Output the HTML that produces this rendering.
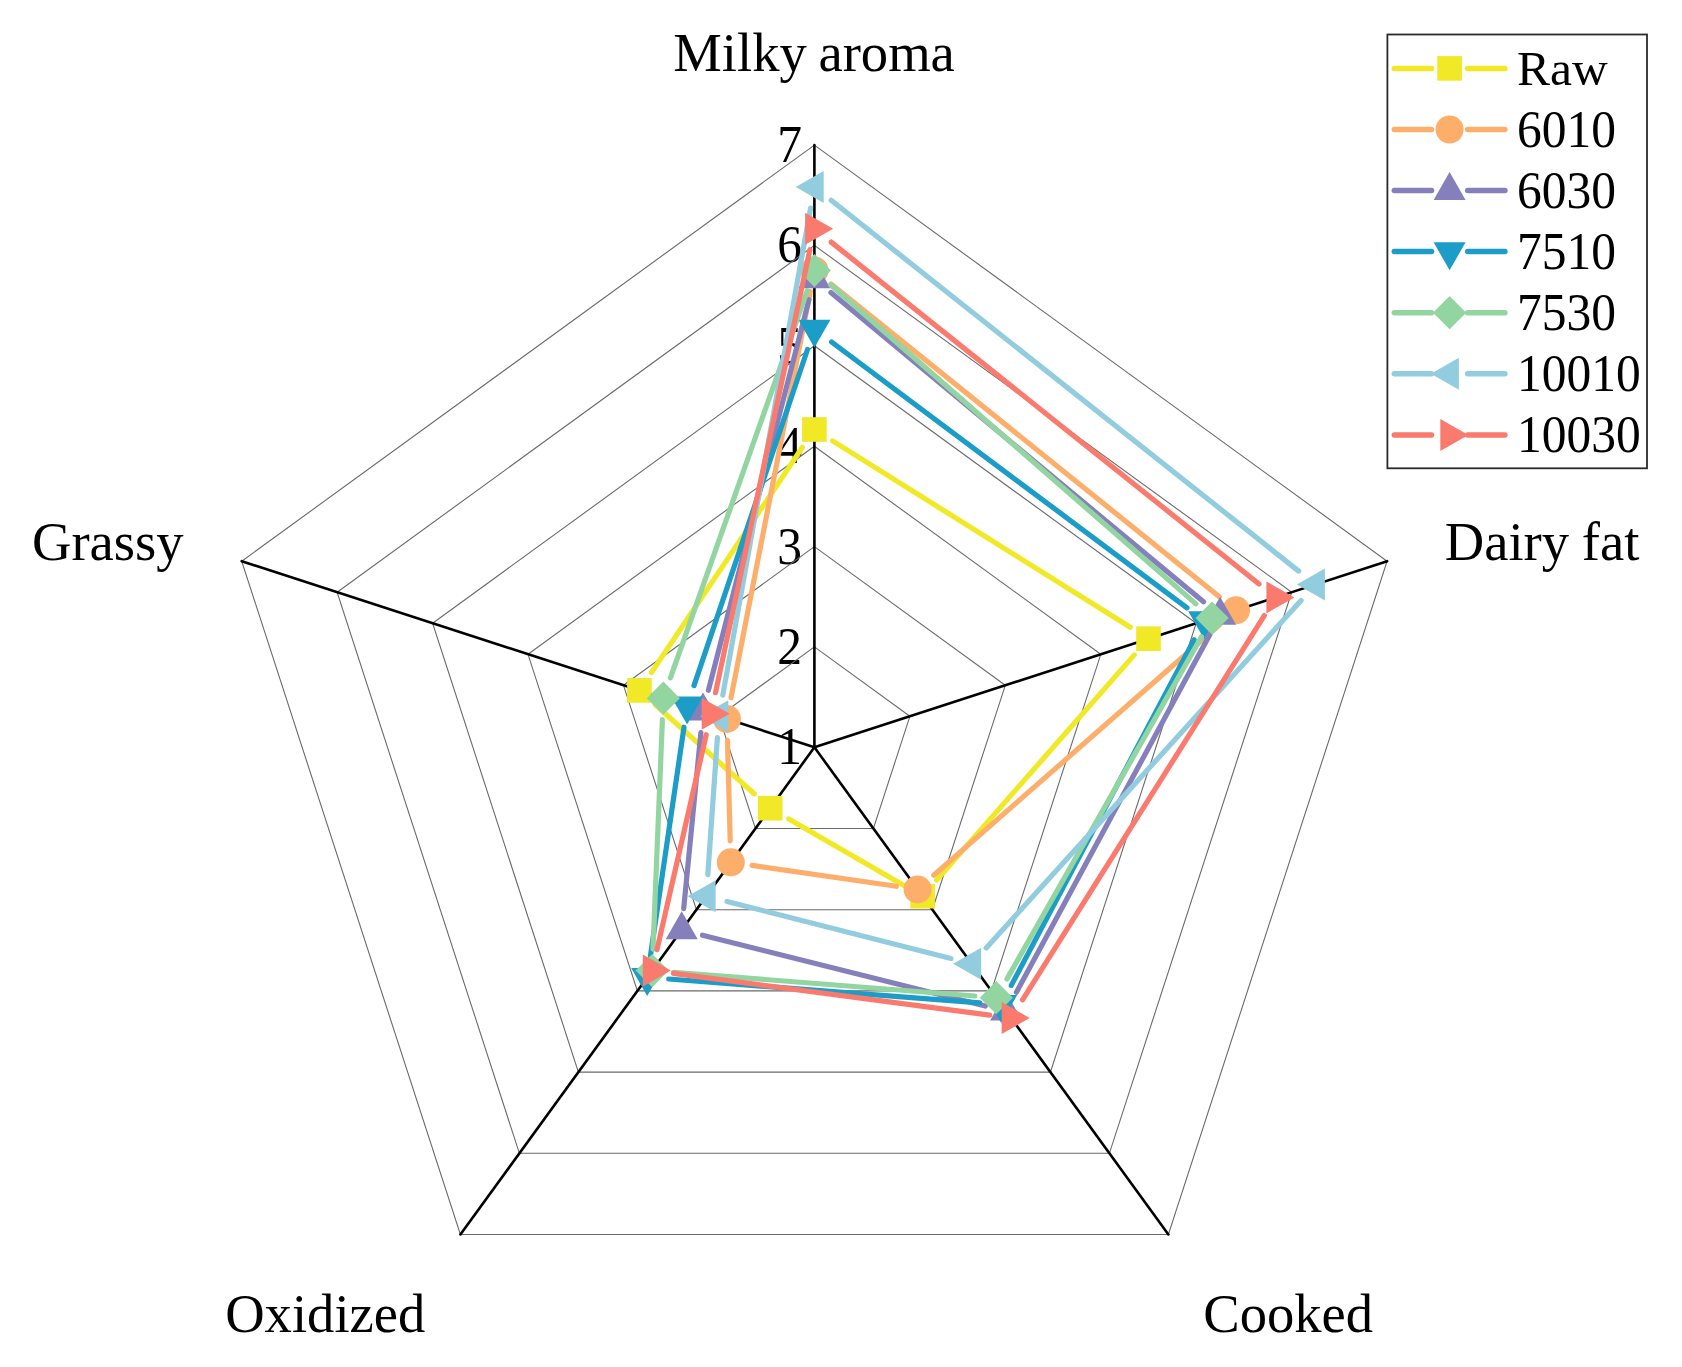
<!DOCTYPE html>
<html><head><meta charset="utf-8"><title>Radar chart</title>
<style>html,body{margin:0;padding:0;background:#fff}svg{display:block}</style>
</head><body>
<svg width="1682" height="1367" viewBox="0 0 1682 1367">
<rect width="1682" height="1367" fill="#fff"/>
<g font-family="'Liberation Serif', serif" font-size="49.5" fill="#000" text-anchor="end">
<text transform="translate(801.9,764.3) scale(1,1.07)">1</text>
<text transform="translate(801.9,663.9) scale(1,1.07)">2</text>
<text transform="translate(801.9,563.6) scale(1,1.07)">3</text>
<text transform="translate(801.9,463.2) scale(1,1.07)">4</text>
<text transform="translate(801.9,362.8) scale(1,1.07)">5</text>
<text transform="translate(801.9,262.4) scale(1,1.07)">6</text>
<text transform="translate(801.9,162.1) scale(1,1.07)">7</text>
</g>
<g fill="none" stroke="#6a6a6a" stroke-width="1.1">
<polygon points="814.4,646.9 909.9,716.3 873.4,828.5 755.4,828.5 718.9,716.3"/>
<polygon points="814.4,546.6 1005.3,685.3 932.4,909.7 696.4,909.7 623.5,685.3"/>
<polygon points="814.4,446.2 1100.8,654.3 991.4,990.9 637.4,990.9 528.0,654.3"/>
<polygon points="814.4,345.8 1196.2,623.2 1050.4,1072.1 578.4,1072.1 432.6,623.2"/>
<polygon points="814.4,245.4 1291.7,592.2 1109.4,1153.3 519.4,1153.3 337.1,592.2"/>
<polygon points="814.4,145.1 1387.1,561.2 1168.4,1234.5 460.4,1234.5 241.7,561.2"/>
</g>
<g stroke="#000" stroke-width="2.6" stroke-linecap="round">
<line x1="814.4" y1="747.3" x2="814.4" y2="145.1"/>
<line x1="814.4" y1="747.3" x2="1387.1" y2="561.2"/>
<line x1="814.4" y1="747.3" x2="1168.4" y2="1234.5"/>
<line x1="814.4" y1="747.3" x2="460.4" y2="1234.5"/>
<line x1="814.4" y1="747.3" x2="241.7" y2="561.2"/>
</g>
<g stroke="#F1E826" stroke-width="5.2" stroke-linecap="round">
<line x1="832.6" y1="440.9" x2="1130.3" y2="627.3"/>
<line x1="1134.3" y1="654.9" x2="936.7" y2="880.0"/>
<line x1="903.9" y1="885.4" x2="788.8" y2="818.9"/>
<line x1="754.2" y1="793.8" x2="655.4" y2="704.8"/>
<line x1="651.4" y1="672.6" x2="802.4" y2="447.3"/>
</g>
<g>
<rect x="802.1" y="417.2" width="24.6" height="24.6" fill="#F1E826"/>
<rect x="1136.2" y="626.4" width="24.6" height="24.6" fill="#F1E826"/>
<rect x="910.3" y="883.9" width="24.6" height="24.6" fill="#F1E826"/>
<rect x="757.9" y="795.9" width="24.6" height="24.6" fill="#F1E826"/>
<rect x="627.1" y="678.1" width="24.6" height="24.6" fill="#F1E826"/>
</g>
<g stroke="#FDAE6B" stroke-width="5.2" stroke-linecap="round">
<line x1="831.1" y1="284.0" x2="1219.3" y2="596.8"/>
<line x1="1219.8" y1="624.5" x2="933.8" y2="875.2"/>
<line x1="896.4" y1="886.3" x2="752.1" y2="865.4"/>
<line x1="730.2" y1="840.8" x2="727.5" y2="740.4"/>
<line x1="731.0" y1="697.8" x2="810.3" y2="291.6"/>
</g>
<g>
<circle cx="814.4" cy="270.5" r="14" fill="#FDAE6B"/>
<circle cx="1236.0" cy="610.3" r="14" fill="#FDAE6B"/>
<circle cx="917.6" cy="889.4" r="14" fill="#FDAE6B"/>
<circle cx="730.8" cy="862.3" r="14" fill="#FDAE6B"/>
<circle cx="726.9" cy="718.9" r="14" fill="#FDAE6B"/>
</g>
<g stroke="#8580BC" stroke-width="5.2" stroke-linecap="round">
<line x1="830.9" y1="292.6" x2="1203.5" y2="601.8"/>
<line x1="1209.9" y1="634.4" x2="1016.4" y2="992.3"/>
<line x1="985.3" y1="1006.0" x2="702.5" y2="935.2"/>
<line x1="683.7" y1="908.6" x2="700.9" y2="732.5"/>
<line x1="708.4" y1="690.3" x2="809.0" y2="299.7"/>
</g>
<g>
<polygon points="814.4,260.2 830.4,288.2 798.4,288.2" fill="#8580BC"/>
<polygon points="1220.1,596.8 1236.1,624.8 1204.1,624.8" fill="#8580BC"/>
<polygon points="1006.1,992.5 1022.1,1020.5 990.1,1020.5" fill="#8580BC"/>
<polygon points="681.7,911.3 697.7,939.3 665.7,939.3" fill="#8580BC"/>
<polygon points="703.0,692.4 719.0,720.4 687.0,720.4" fill="#8580BC"/>
</g>
<g stroke="#1C9DC8" stroke-width="5.2" stroke-linecap="round">
<line x1="831.6" y1="342.0" x2="1187.0" y2="607.8"/>
<line x1="1194.1" y1="639.7" x2="1011.3" y2="985.4"/>
<line x1="979.8" y1="1002.8" x2="668.7" y2="979.0"/>
<line x1="650.4" y1="956.1" x2="684.0" y2="727.2"/>
<line x1="694.0" y1="685.6" x2="807.5" y2="349.5"/>
</g>
<g>
<polygon points="814.4,347.8 830.4,319.8 798.4,319.8" fill="#1C9DC8"/>
<polygon points="1204.2,639.3 1220.2,611.3 1188.2,611.3" fill="#1C9DC8"/>
<polygon points="1001.2,1023.1 1017.2,995.1 985.2,995.1" fill="#1C9DC8"/>
<polygon points="647.2,996.0 663.2,968.0 631.2,968.0" fill="#1C9DC8"/>
<polygon points="687.1,724.6 703.1,696.6 671.1,696.6" fill="#1C9DC8"/>
</g>
<g stroke="#93D5A0" stroke-width="5.2" stroke-linecap="round">
<line x1="830.6" y1="284.7" x2="1195.9" y2="603.9"/>
<line x1="1201.5" y1="636.8" x2="1006.9" y2="979.0"/>
<line x1="974.9" y1="996.0" x2="673.6" y2="972.3"/>
<line x1="653.0" y1="949.1" x2="662.4" y2="719.7"/>
<line x1="670.4" y1="677.9" x2="807.2" y2="290.8"/>
</g>
<g>
<polygon points="797.8,270.5 814.4,253.9 831.0,270.5 814.4,287.1" fill="#93D5A0"/>
<polygon points="1195.5,618.1 1212.1,601.5 1228.7,618.1 1212.1,634.7" fill="#93D5A0"/>
<polygon points="979.7,997.7 996.3,981.1 1012.9,997.7 996.3,1014.3" fill="#93D5A0"/>
<polygon points="635.6,970.6 652.2,954.0 668.8,970.6 652.2,987.2" fill="#93D5A0"/>
<polygon points="646.7,698.2 663.3,681.6 679.9,698.2 663.3,714.8" fill="#93D5A0"/>
</g>
<g stroke="#92CCDF" stroke-width="5.2" stroke-linecap="round">
<line x1="831.2" y1="200.3" x2="1298.7" y2="571.1"/>
<line x1="1301.1" y1="600.4" x2="986.2" y2="947.9"/>
<line x1="950.9" y1="958.5" x2="727.1" y2="901.5"/>
<line x1="707.8" y1="874.7" x2="717.4" y2="737.7"/>
<line x1="722.8" y1="695.1" x2="810.6" y2="208.1"/>
</g>
<g>
<polygon points="795.7,186.9 823.7,170.9 823.7,202.9" fill="#92CCDF"/>
<polygon points="1296.9,584.5 1324.9,568.5 1324.9,600.5" fill="#92CCDF"/>
<polygon points="953.1,963.8 981.1,947.8 981.1,979.8" fill="#92CCDF"/>
<polygon points="687.6,896.2 715.6,880.2 715.6,912.2" fill="#92CCDF"/>
<polygon points="700.3,716.3 728.3,700.3 728.3,732.3" fill="#92CCDF"/>
</g>
<g stroke="#FB7A6E" stroke-width="5.2" stroke-linecap="round">
<line x1="831.2" y1="242.1" x2="1259.0" y2="584.0"/>
<line x1="1264.3" y1="615.6" x2="1022.5" y2="999.8"/>
<line x1="989.7" y1="1015.2" x2="673.5" y2="973.4"/>
<line x1="657.0" y1="949.6" x2="706.2" y2="734.7"/>
<line x1="715.5" y1="692.7" x2="809.9" y2="249.7"/>
</g>
<g>
<polygon points="833.1,228.7 805.1,212.7 805.1,244.7" fill="#FB7A6E"/>
<polygon points="1294.4,597.4 1266.4,581.4 1266.4,613.4" fill="#FB7A6E"/>
<polygon points="1029.7,1018.0 1001.7,1002.0 1001.7,1034.0" fill="#FB7A6E"/>
<polygon points="670.8,970.6 642.8,954.6 642.8,986.6" fill="#FB7A6E"/>
<polygon points="729.7,713.7 701.7,697.7 701.7,729.7" fill="#FB7A6E"/>
</g>
<g font-family="'Liberation Serif', serif" font-size="54.6" fill="#000">
<text x="673.3" y="70.8" word-spacing="-2">Milky aroma</text>
<text x="1444.8" y="559.6" word-spacing="-1">Dairy fat</text>
<text x="1203.3" y="1331.8" word-spacing="0">Cooked</text>
<text x="225.2" y="1331.8" word-spacing="0">Oxidized</text>
<text x="32" y="560" word-spacing="0">Grassy</text>
</g>
<rect x="1387.4" y="34.5" width="259.6" height="433.8" fill="#fff" stroke="#2a2a2a" stroke-width="1.8"/>
<g stroke="#F1E826" stroke-width="5.5" stroke-linecap="round"><line x1="1394.3" y1="68.4" x2="1431.5" y2="68.4"/><line x1="1467.7" y1="68.4" x2="1504.9" y2="68.4"/></g>
<rect x="1437.3" y="56.1" width="24.6" height="24.6" fill="#F1E826"/>
<text x="1517" y="84.7" font-family="'Liberation Serif', serif" font-size="49.5" fill="#000">Raw</text>
<g stroke="#FDAE6B" stroke-width="5.5" stroke-linecap="round"><line x1="1394.3" y1="129.5" x2="1431.5" y2="129.5"/><line x1="1467.7" y1="129.5" x2="1504.9" y2="129.5"/></g>
<circle cx="1449.6" cy="129.5" r="14" fill="#FDAE6B"/>
<text transform="translate(1517,146.5) scale(1,1.07)" font-family="'Liberation Serif', serif" font-size="49.5" fill="#000">6010</text>
<g stroke="#8580BC" stroke-width="5.5" stroke-linecap="round"><line x1="1394.3" y1="190.6" x2="1431.5" y2="190.6"/><line x1="1467.7" y1="190.6" x2="1504.9" y2="190.6"/></g>
<polygon points="1449.6,171.9 1465.6,199.9 1433.6,199.9" fill="#8580BC"/>
<text transform="translate(1517,207.6) scale(1,1.07)" font-family="'Liberation Serif', serif" font-size="49.5" fill="#000">6030</text>
<g stroke="#1C9DC8" stroke-width="5.5" stroke-linecap="round"><line x1="1394.3" y1="251.6" x2="1431.5" y2="251.6"/><line x1="1467.7" y1="251.6" x2="1504.9" y2="251.6"/></g>
<polygon points="1449.6,270.3 1465.6,242.3 1433.6,242.3" fill="#1C9DC8"/>
<text transform="translate(1517,268.6) scale(1,1.07)" font-family="'Liberation Serif', serif" font-size="49.5" fill="#000">7510</text>
<g stroke="#93D5A0" stroke-width="5.5" stroke-linecap="round"><line x1="1394.3" y1="312.7" x2="1431.5" y2="312.7"/><line x1="1467.7" y1="312.7" x2="1504.9" y2="312.7"/></g>
<polygon points="1433.0,312.7 1449.6,296.1 1466.2,312.7 1449.6,329.3" fill="#93D5A0"/>
<text transform="translate(1517,329.7) scale(1,1.07)" font-family="'Liberation Serif', serif" font-size="49.5" fill="#000">7530</text>
<g stroke="#92CCDF" stroke-width="5.5" stroke-linecap="round"><line x1="1394.3" y1="373.8" x2="1431.5" y2="373.8"/><line x1="1467.7" y1="373.8" x2="1504.9" y2="373.8"/></g>
<polygon points="1430.9,373.8 1458.9,357.8 1458.9,389.8" fill="#92CCDF"/>
<text transform="translate(1517,390.8) scale(1,1.07)" font-family="'Liberation Serif', serif" font-size="49.5" fill="#000">10010</text>
<g stroke="#FB7A6E" stroke-width="5.5" stroke-linecap="round"><line x1="1394.3" y1="434.9" x2="1431.5" y2="434.9"/><line x1="1467.7" y1="434.9" x2="1504.9" y2="434.9"/></g>
<polygon points="1468.3,434.9 1440.3,418.9 1440.3,450.9" fill="#FB7A6E"/>
<text transform="translate(1517,451.9) scale(1,1.07)" font-family="'Liberation Serif', serif" font-size="49.5" fill="#000">10030</text>
</svg>
</body></html>
